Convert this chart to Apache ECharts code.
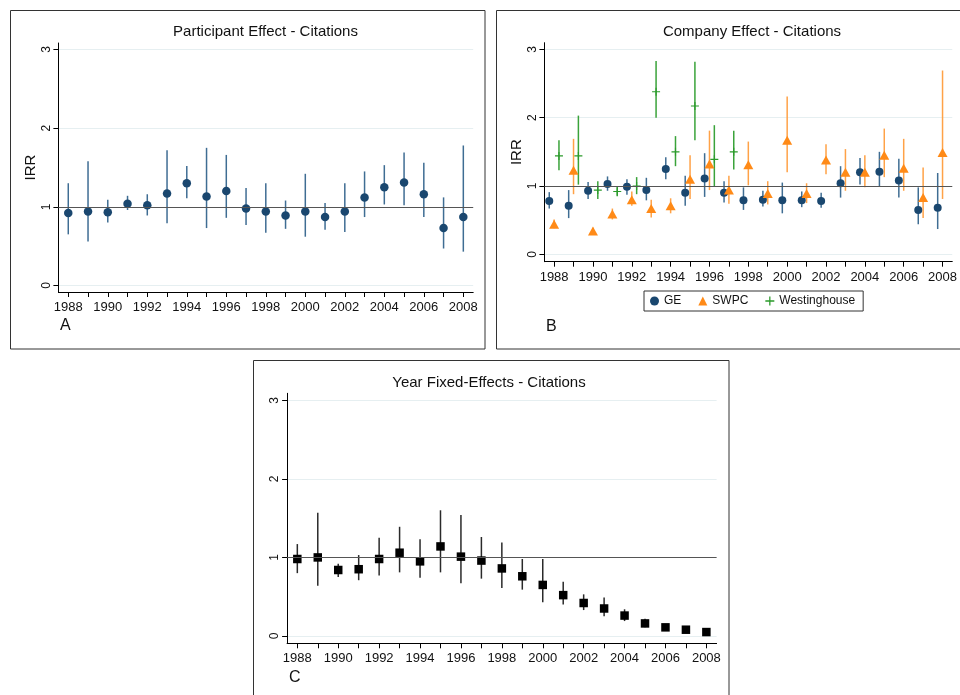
<!DOCTYPE html>
<html>
<head>
<meta charset="utf-8">
<script src="https://cdn.jsdelivr.net/npm/echarts@6/dist/echarts.min.js"></script>
<style>
html,body{margin:0;padding:0;background:#fff;}
#chart{width:960px;height:695px;}
</style>
</head>
<body>
<div id="chart"></div>
<script>
// ---------- data ----------
const years = [1988,1989,1990,1991,1992,1993,1994,1995,1996,1997,1998,1999,2000,2001,2002,2003,2004,2005,2006,2007,2008];
const xLabelYears = [1988,1990,1992,1994,1996,1998,2000,2002,2004,2006,2008];
const yTicks = [0,1,2,3];
const refValue = 1;

// Panel A: Participant Effect
const partIRR = [0.92,0.94,0.93,1.04,1.02,1.17,1.30,1.13,1.20,0.98,0.94,0.89,0.94,0.87,0.94,1.12,1.25,1.31,1.16,0.73,0.87];
const partLo  = [0.65,0.56,0.80,0.96,0.89,0.79,1.11,0.73,0.86,0.77,0.67,0.72,0.62,0.71,0.68,0.87,1.03,1.02,0.87,0.47,0.43];
const partHi  = [1.30,1.58,1.09,1.14,1.16,1.72,1.52,1.75,1.66,1.24,1.30,1.08,1.42,1.05,1.30,1.45,1.53,1.69,1.56,1.12,1.78];

// Panel B: Company Effect
const geIRR = [0.78,0.71,0.93,1.03,0.99,0.94,1.25,0.90,1.11,0.90,0.79,0.80,0.79,0.79,0.78,1.04,1.20,1.21,1.08,0.65,0.68];
const geLo  = [0.67,0.53,0.81,0.93,0.87,0.79,1.10,0.71,0.84,0.76,0.65,0.70,0.60,0.69,0.68,0.83,1.02,0.99,0.83,0.44,0.37];
const geHi  = [0.91,0.94,1.06,1.14,1.10,1.12,1.42,1.15,1.48,1.07,0.98,0.93,1.05,0.92,0.90,1.29,1.41,1.50,1.40,0.98,1.19];

const swpcIRR = [0.44,1.23,0.34,0.59,0.80,0.67,0.71,1.10,1.32,0.94,1.31,0.89,1.67,0.89,1.38,1.20,1.20,1.45,1.26,0.83,1.49];
const swpcLo  = [0.38,0.88,0.30,0.51,0.71,0.54,0.60,0.81,0.94,0.74,1.01,0.73,1.20,0.75,1.17,0.93,0.98,1.13,0.93,0.53,0.81];
const swpcHi  = [0.51,1.69,0.39,0.67,0.92,0.80,0.82,1.45,1.81,1.15,1.65,1.07,2.31,1.04,1.61,1.54,1.45,1.84,1.69,1.27,2.69];

const westYears = [1988,1989,1990,1991,1992,1993,1994,1995,1996,1997];
const westIRR = [1.44,1.44,0.94,0.92,1.00,2.38,1.50,2.17,1.39,1.50];
const westLo  = [1.23,1.02,0.81,0.85,0.88,2.00,1.29,1.67,1.00,1.24];
const westHi  = [1.67,2.03,1.07,0.99,1.13,2.83,1.73,2.82,1.89,1.81];

// Panel C: Year Fixed-Effects
const yearIRR = [0.98,1.00,0.84,0.85,0.98,1.06,0.95,1.14,1.01,0.96,0.86,0.76,0.65,0.52,0.42,0.35,0.26,0.16,0.11,0.08,0.05];
const yearLo  = [0.80,0.64,0.75,0.71,0.77,0.81,0.74,0.81,0.67,0.73,0.61,0.59,0.43,0.40,0.33,0.25,0.19,0.11,0.09,0.05,0.03];
const yearHi  = [1.17,1.57,0.92,1.03,1.25,1.39,1.23,1.60,1.54,1.26,1.19,0.98,0.98,0.69,0.53,0.49,0.34,0.22,0.13,0.11,0.07];

const titles = ['Participant Effect - Citations','Company Effect - Citations','Year Fixed-Effects - Citations'];
const panelLetters = ['A','B','C'];
const companyNames = ['GE','SWPC','Westinghouse'];

// ---------- styling ----------
const FONT = '"Liberation Sans", Arial, sans-serif';
const NAVY = '#1a476f', NAVY_BAR = '#3f6d93';
const ORANGE = '#ff8a17', ORANGE_BAR = '#ffa247';
const GREEN = '#2a9a2a', GREEN_BAR = '#3aa33a';
const BLACK = '#000', BLACK_BAR = '#2a2a2a';
const PLUS = 'path://M4.3,0H5.7V4.3H10V5.7H5.7V10H4.3V5.7H0V4.3H4.3Z';

const chart = echarts.init(document.getElementById('chart'), null, {renderer:'canvas'});

function zip(xs, ys, dx){ return xs.map((x,i)=>[x+(dx||0), ys[i]]); }
function zipBars(xs, lo, hi, dx){ return xs.map((x,i)=>[x+(dx||0), lo[i], hi[i]]); }

function barSeries(gi, data, color, name){
  return {
    type:'custom', xAxisIndex:gi, yAxisIndex:gi, z:2, silent:true, name: name,
    data: data,
    renderItem: function(params, api){
      const p1 = api.coord([api.value(0), api.value(1)]);
      const p2 = api.coord([api.value(0), api.value(2)]);
      return {type:'line', shape:{x1:p1[0], y1:p1[1], x2:p2[0], y2:p2[1]},
              style:{stroke:color, lineWidth:1.5}};
    }
  };
}
function refSeries(gi){
  return {
    type:'line', xAxisIndex:gi, yAxisIndex:gi, data:[], z:1, silent:true,
    markLine:{silent:true, symbol:['none','none'], label:{show:false},
      lineStyle:{color:'#555', width:1.2, type:'solid'},
      data:[{yAxis:refValue}]}
  };
}

const grids = [
  {left:58.4, top:43, width:414.8, height:249},
  {left:544.4, top:42.7, width:415.8, height:219},
  {left:287.1, top:393.3, width:429.5, height:250}
];
const yRanges = [[-0.083,3.083],[-0.108,3.097],[-0.093,3.089]];

const xAxes = grids.map((g,i)=>({
  type:'value', gridIndex:i, min:1987.5, max:2008.5,
  axisLine:{show:true, onZero:false, lineStyle:{color:'#000', width:1}},
  axisTick:{show:true, length:5, customValues:years, lineStyle:{color:'#000'}},
  axisLabel:{show:true, customValues:xLabelYears, margin:9, fontSize:13, color:'#111', fontFamily:FONT,
    formatter:v=>String(v)},
  splitLine:{show:false}
}));
const yAxes = grids.map((g,i)=>({
  type:'value', gridIndex:i, min:yRanges[i][0], max:yRanges[i][1],
  name: i<2 ? 'IRR' : '', nameLocation:'middle', nameGap:20,
  nameTextStyle:{fontSize:15, color:'#111', fontFamily:FONT},
  axisLine:{show:true, onZero:false, lineStyle:{color:'#000', width:1}},
  axisTick:{show:true, length:5, customValues:yTicks, lineStyle:{color:'#000'}},
  axisLabel:{show:true, customValues:yTicks, rotate:90, margin:6, fontSize:12, color:'#111', fontFamily:FONT,
    formatter:v=>String(v)},
  splitLine:{show:true, lineStyle:{color:'#e6eff1', width:1}}
}));

const series = [
  refSeries(0), refSeries(1), refSeries(2),
  // A
  barSeries(0, zipBars(years, partLo, partHi), NAVY_BAR),
  {type:'scatter', xAxisIndex:0, yAxisIndex:0, z:3, symbol:'circle', symbolSize:8.5,
   itemStyle:{color:NAVY, opacity:1}, data:zip(years, partIRR)},
  // B
  barSeries(1, zipBars(years, geLo, geHi, -0.25), NAVY_BAR),
  barSeries(1, zipBars(years, swpcLo, swpcHi, 0), ORANGE_BAR),
  barSeries(1, zipBars(westYears, westLo, westHi, 0.25), GREEN_BAR),
  {name:companyNames[0], type:'scatter', xAxisIndex:1, yAxisIndex:1, z:3, symbol:'circle', symbolSize:8,
   itemStyle:{color:NAVY, opacity:1}, data:zip(years, geIRR, -0.25)},
  {name:companyNames[1], type:'scatter', xAxisIndex:1, yAxisIndex:1, z:3, symbol:'triangle', symbolSize:[10,9],
   itemStyle:{color:ORANGE, opacity:1}, data:zip(years, swpcIRR, 0)},
  {name:companyNames[2], type:'scatter', xAxisIndex:1, yAxisIndex:1, z:3, symbol:PLUS, symbolSize:8,
   itemStyle:{color:GREEN, opacity:1}, data:zip(westYears, westIRR, 0.25)},
  // C
  barSeries(2, zipBars(years, yearLo, yearHi), BLACK_BAR),
  {type:'scatter', xAxisIndex:2, yAxisIndex:2, z:3, symbol:'rect', symbolSize:8.5,
   itemStyle:{color:BLACK, opacity:1}, data:zip(years, yearIRR)}
];

const titleTextStyle = {fontSize:15, fontWeight:'normal', color:'#111', fontFamily:FONT};
const letterStyle = {fontSize:16, fontWeight:'normal', color:'#111', fontFamily:FONT};
const option = {
  animation:false,
  backgroundColor:'#fff',
  title:[
    {text:titles[0], left:265.5, top:24, textAlign:'center', textStyle:titleTextStyle, padding:0},
    {text:titles[1], left:752, top:24, textAlign:'center', textStyle:titleTextStyle, padding:0},
    {text:titles[2], left:489, top:375, textAlign:'center', textStyle:titleTextStyle, padding:0},
    {text:panelLetters[0], left:60, top:318, textStyle:letterStyle, padding:0},
    {text:panelLetters[1], left:546, top:319, textStyle:letterStyle, padding:0},
    {text:panelLetters[2], left:289, top:670, textStyle:letterStyle, padding:0}
  ],
  legend:{
    data:companyNames, left:644, top:291, orient:'horizontal',
    borderColor:'#333', borderWidth:1, padding:[4,8,4,6], itemGap:17,
    itemWidth:9, itemHeight:9, textStyle:{fontSize:12, color:'#111', fontFamily:FONT},
    selectedMode:false
  },
  grid:grids.map(g=>Object.assign({containLabel:false}, g)),
  xAxis:xAxes,
  yAxis:yAxes,
  series:series,
  graphic:[
    {type:'rect', shape:{x:10.5, y:10.5, width:474.5, height:338.5}, style:{fill:null, stroke:'#333', lineWidth:1}, silent:true},
    {type:'rect', shape:{x:496.5, y:10.5, width:600, height:338.5}, style:{fill:null, stroke:'#333', lineWidth:1}, silent:true},
    {type:'rect', shape:{x:253.5, y:360.5, width:475.5, height:400}, style:{fill:null, stroke:'#333', lineWidth:1}, silent:true}
  ]
};
chart.setOption(option);
</script>
</body>
</html>
